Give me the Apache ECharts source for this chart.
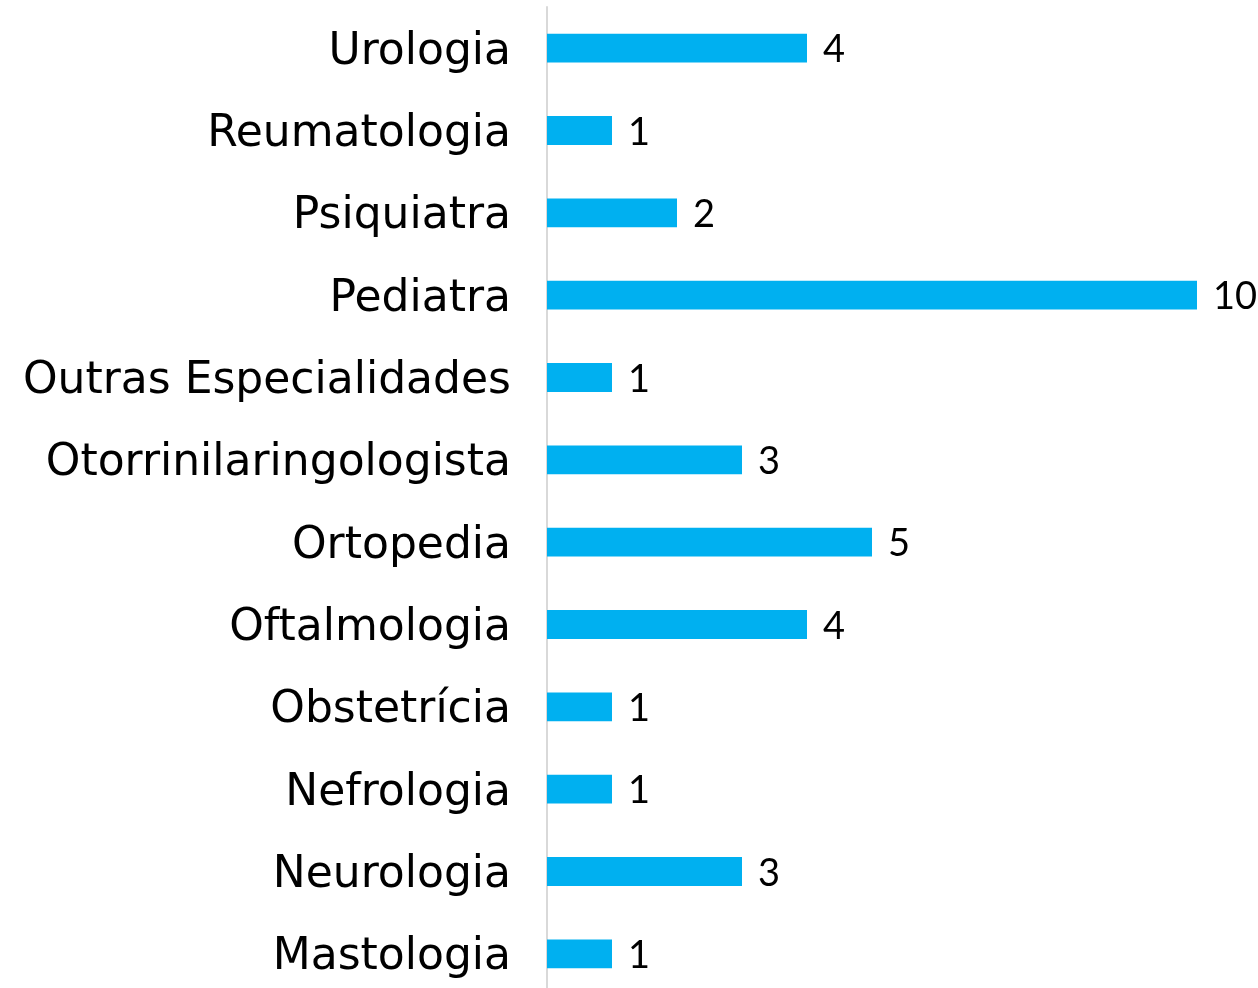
<!DOCTYPE html>
<html>
<head>
<meta charset="utf-8">
<script src="https://cdn.jsdelivr.net/npm/echarts@6/dist/echarts.min.js"></script>
<style>
  html, body { margin: 0; padding: 0; background: #fff; overflow: hidden; }
  #chart { width: 1258px; height: 1000px; }
</style>
</head>
<body>
<div id="chart"></div>
<script>
// categories listed bottom to top (ECharts category y axis starts at the bottom)
const categories = [
  'Mastologia', 'Neurologia', 'Nefrologia', 'Obstetrícia', 'Oftalmologia',
  'Ortopedia', 'Otorrinilaringologista', 'Outras Especialidades', 'Pediatra',
  'Psiquiatra', 'Reumatologia', 'Urologia'
]
const values = [1, 3, 1, 1, 4, 5, 3, 1, 10, 2, 1, 4]

const chart = echarts.init(document.getElementById('chart'))
chart.setOption({
  animation: false,
  grid: {
    left: 547,
    right: 61,
    top: 7,
    height: 988,
    containLabel: false
  },
  xAxis: {
    type: 'value',
    min: 0,
    max: 10,
    show: false
  },
  yAxis: {
    type: 'category',
    data: categories,
    axisTick: { show: false },
    axisLine: {
      lineStyle: { color: '#d9d9d9', width: 2 }
    },
    axisLabel: {
      margin: 36,
      formatter: v => '{t|' + v + '}',
      rich: {
        t: {
          color: '#000',
          fontFamily: 'DejaVu Sans',
          fontSize: 44,
          padding: [8, 0, 0, 0]
        }
      }
    },
    splitLine: { show: false }
  },
  series: [
    {
      type: 'bar',
      data: values,
      barWidth: '35%',
      itemStyle: { color: '#00B0F0' },
      label: {
        show: true,
        position: 'right',
        distance: 16,
        formatter: '{n|{c}}',
        rich: {
          n: {
            color: '#000',
            fontFamily: 'Lato',
            fontSize: 38,
            padding: [4, 0, 0, 0]
          }
        }
      }
    }
  ]
})
</script>
</body>
</html>
